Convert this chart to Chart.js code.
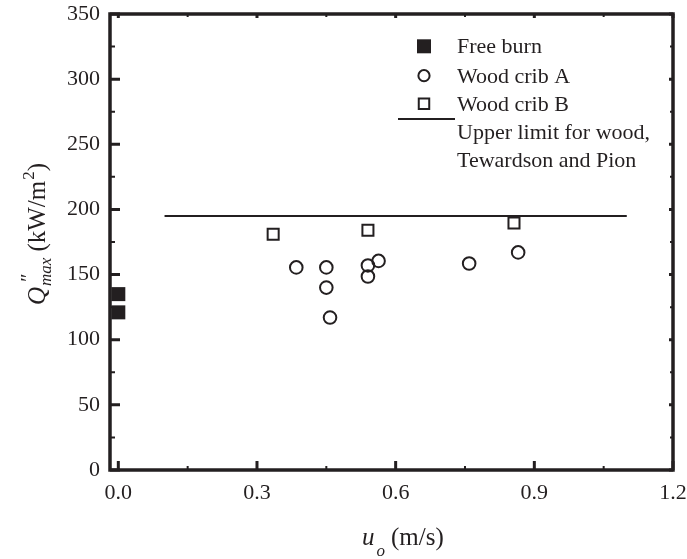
<!DOCTYPE html>
<html><head><meta charset="utf-8">
<script src="https://cdn.jsdelivr.net/npm/chart.js@4"></script>
<style>html,body{margin:0;padding:0;background:#fff;}canvas{display:block;}</style>
</head><body>
<canvas id="c" width="687" height="559"></canvas>
<script>
// ---- tick values ----
const xTicks = [0.0, 0.3, 0.6, 0.9, 1.2];
const xMinorTicks = [0.15, 0.45, 0.75, 1.05];
const yTicks = [0, 50, 100, 150, 200, 250, 300, 350];
const yMinorTicks = [25, 75, 125, 175, 225, 275, 325];

// ---- data ----
const freeBurnU = [0.0, 0.0];
const freeBurnQ = [135, 121];
const cribAU = [0.385, 0.45, 0.45, 0.458, 0.54, 0.54, 0.563, 0.759, 0.865];
const cribAQ = [155.5, 155.5, 140, 117, 157, 148.5, 160.5, 158.5, 167];
const cribBU = [0.335, 0.54, 0.856];
const cribBQ = [181, 184, 189.5];
const limitU = [0.1, 1.1];
const limitQ = [195, 195];

const seriesNames = ['Free burn', 'Wood crib A', 'Wood crib B', 'Upper limit for wood,', 'Tewardson and Pion'];

const INK = '#231f20';
const SERIF = '"Liberation Serif", "Times New Roman", serif';

function pts(xs, ys) { return xs.map((x, i) => ({ x: x, y: ys[i] })); }

const framePlugin = {
  id: 'frame',
  beforeDatasetsDraw(chart) {
    const { ctx, chartArea: a, scales } = chart;
    const x = scales.x, y = scales.y;
    ctx.save();
    ctx.strokeStyle = INK;
    ctx.lineCap = 'butt';
    ctx.lineWidth = 3;
    ctx.beginPath();
    yTicks.forEach(v => {
      const p = y.getPixelForValue(v);
      ctx.moveTo(a.left, p); ctx.lineTo(a.left + 10, p);
      ctx.moveTo(a.right, p); ctx.lineTo(a.right - 4, p);
    });
    xTicks.forEach(v => {
      const p = x.getPixelForValue(v);
      ctx.moveTo(p, a.bottom); ctx.lineTo(p, a.bottom - 9);
      ctx.moveTo(p, a.top); ctx.lineTo(p, a.top + 4);
    });
    ctx.stroke();
    ctx.lineWidth = 2;
    ctx.beginPath();
    yMinorTicks.forEach(v => {
      const p = y.getPixelForValue(v);
      ctx.moveTo(a.left, p); ctx.lineTo(a.left + 5, p);
      ctx.moveTo(a.right, p); ctx.lineTo(a.right - 3, p);
    });
    xMinorTicks.forEach(v => {
      const p = x.getPixelForValue(v);
      ctx.moveTo(p, a.bottom); ctx.lineTo(p, a.bottom - 4);
      ctx.moveTo(p, a.top); ctx.lineTo(p, a.top + 3);
    });
    ctx.stroke();
    ctx.lineWidth = 3.5;
    ctx.lineJoin = 'miter';
    ctx.strokeRect(a.left, a.top, a.right - a.left, a.bottom - a.top);
    ctx.restore();
  }
};

const textPlugin = {
  id: 'texts',
  afterDraw(chart) {
    const ctx = chart.ctx;
    ctx.save();
    ctx.fillStyle = INK;
    ctx.textAlign = 'left';
    ctx.textBaseline = 'alphabetic';

    // x axis title: u_o (m/s)
    const base = 545;
    ctx.font = 'italic 25px ' + SERIF;
    ctx.fillText('u', 362, base);
    const wu = ctx.measureText('u').width;
    ctx.font = 'italic 17px ' + SERIF;
    ctx.fillText('o', 362 + wu + 2, base + 11);
    ctx.font = '25px ' + SERIF;
    ctx.fillText('(m/s)', 391, base);

    // y axis title: Q''_max (kW/m^2), rotated
    ctx.save();
    ctx.translate(45, 305);
    ctx.rotate(-Math.PI / 2);
    ctx.font = 'italic 25px ' + SERIF;
    ctx.fillText('Q', 0, 0);
    const wq = ctx.measureText('Q').width;
    ctx.font = 'italic 17px ' + SERIF;
    ctx.fillText('max', wq + 1, 6);
    const wm = ctx.measureText('max').width;
    ctx.font = 'italic 20px ' + SERIF;
    ctx.fillText('\u2033', wq + 4, -10);
    ctx.font = '25px ' + SERIF;
    let cx = wq + 1 + wm + 6;
    ctx.fillText('(kW/m', cx, 0);
    cx += ctx.measureText('(kW/m').width;
    ctx.font = '17px ' + SERIF;
    ctx.fillText('2', cx + 1, -11);
    cx += ctx.measureText('2').width + 1;
    ctx.font = '25px ' + SERIF;
    ctx.fillText(')', cx, 0);
    ctx.restore();

    // legend
    const ds = chart.data.datasets;
    const mx = 424;
    const tx = 457;
    const rows = [53.3, 82.7, 110.7, 139, 166.7];
    ctx.font = '22px ' + SERIF;
    for (let i = 0; i < 3; i++) {
      const d = ds[i];
      ctx.fillStyle = d.pointBackgroundColor;
      ctx.strokeStyle = d.pointBorderColor;
      ctx.lineWidth = d.pointBorderWidth;
      Chart.helpers.drawPoint(ctx, {
        pointStyle: d.pointStyle,
        radius: d.legendRadius,
        borderWidth: d.pointBorderWidth,
        rotation: 0
      }, mx, rows[i] - 7);
      ctx.fillStyle = INK;
      ctx.fillText(seriesNames[i], tx, rows[i]);
    }
    ctx.strokeStyle = INK;
    ctx.lineWidth = 2;
    ctx.beginPath();
    ctx.moveTo(398, 119); ctx.lineTo(455, 119);
    ctx.stroke();
    ctx.fillStyle = INK;
    ctx.fillText(seriesNames[3], tx, rows[3]);
    ctx.fillText(seriesNames[4], tx, rows[4]);
    ctx.restore();
  }
};

new Chart(document.getElementById('c'), {
  type: 'scatter',
  data: {
    datasets: [
      {
        label: seriesNames[0],
        data: pts(freeBurnU, freeBurnQ),
        pointStyle: 'rect',
        pointRadius: 9.9,
        legendRadius: 9.9,
        pointBackgroundColor: INK,
        pointBorderColor: INK,
        pointBorderWidth: 0,
        clip: false
      },
      {
        label: seriesNames[1],
        data: pts(cribAU, cribAQ),
        pointStyle: 'circle',
        pointRadius: 6.3,
        legendRadius: 5.6,
        pointBackgroundColor: 'rgba(0,0,0,0)',
        pointBorderColor: INK,
        pointBorderWidth: 2,
        clip: false
      },
      {
        label: seriesNames[2],
        data: pts(cribBU, cribBQ),
        pointStyle: 'rect',
        pointRadius: 7.8,
        legendRadius: 7.4,
        pointBackgroundColor: 'rgba(0,0,0,0)',
        pointBorderColor: INK,
        pointBorderWidth: 2,
        clip: false
      },
      {
        label: seriesNames[3] + ' ' + seriesNames[4],
        data: pts(limitU, limitQ),
        showLine: true,
        borderColor: INK,
        borderWidth: 2,
        pointRadius: 0,
        fill: false
      }
    ]
  },
  options: {
    responsive: false,
    animation: false,
    events: [],
    layout: { padding: { top: 14, right: 14, left: 0, bottom: 0 } },
    plugins: { legend: { display: false }, tooltip: { enabled: false } },
    scales: {
      x: {
        type: 'linear',
        min: -0.018,
        max: 1.2,
        grid: { display: false, drawTicks: false },
        border: { display: false },
        afterBuildTicks: s => { s.ticks = xTicks.map(v => ({ value: v })); },
        afterFit: s => { s.height = 89; s.paddingLeft = 0; s.paddingRight = 0; },
        ticks: {
          callback: v => Number(v).toFixed(1),
          font: { family: SERIF, size: 22 },
          color: INK,
          padding: 10,
          maxRotation: 0,
          autoSkip: false
        }
      },
      y: {
        type: 'linear',
        min: 0,
        max: 350,
        grid: { display: false, drawTicks: false },
        border: { display: false },
        afterBuildTicks: s => { s.ticks = yTicks.map(v => ({ value: v })); },
        afterFit: s => { s.width = 110; s.paddingTop = 0; s.paddingBottom = 0; },
        ticks: {
          callback: v => String(v),
          font: { family: SERIF, size: 22 },
          color: INK,
          padding: 10,
          autoSkip: false
        }
      }
    }
  },
  plugins: [framePlugin, textPlugin]
});
</script>
</body></html>
